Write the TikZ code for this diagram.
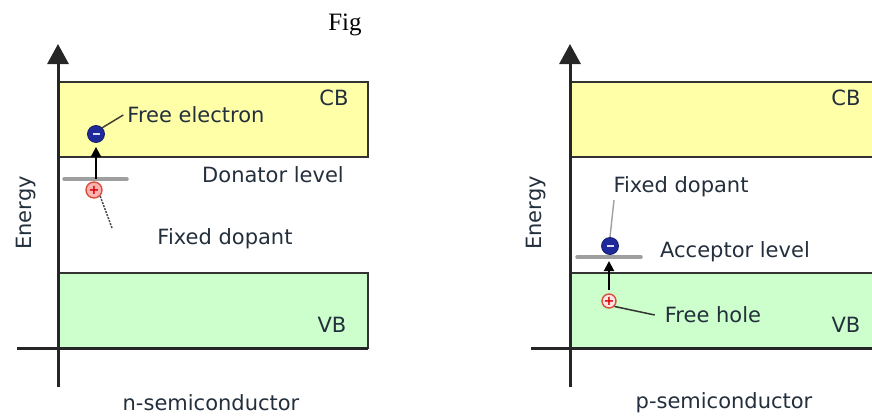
\documentclass[tikz,border=0pt]{standalone}
\usepackage{fontspec}
\setmainfont{DejaVu Sans}
\newfontfamily\figfont{Liberation Serif}
\usetikzlibrary{arrows.meta}
\definecolor{cbfill}{HTML}{FFFFA8}
\definecolor{vbfill}{HTML}{CCFFCC}
\definecolor{bordo}{HTML}{333333}
\definecolor{testo}{HTML}{232F3C}
\definecolor{elett}{HTML}{1E2A9A}
\definecolor{lacuna}{HTML}{D9503A}
\begin{document}
\begin{tikzpicture}[x=1pt,y=-1pt,
			banda/.style={draw=bordo, line width=2pt},
			asse/.style={line width=3pt, black!85},
			livello/.style={line width=3.5pt, gray!75, line cap=round},
			freccia/.style={line width=2pt, black, -{Triangle[length=10pt,width=10pt]}},
			elettrone/.style={circle, fill=elett, draw=elett!70!black, line width=0.8pt, inner sep=0pt, minimum size=17pt, text=white!85!elett},
			lacunanodo/.style={circle, draw=lacuna, line width=1.4pt, inner sep=0pt, minimum size=16pt, text=red!85!black, font=\fontsize{13}{13}\selectfont\bfseries},
			guida/.style={line width=1.5pt, black!70!olive},
			etich/.style={font=\fontsize{21}{25}\selectfont, text=testo, inner sep=0pt},
			]
			
			\clip (0,0) rectangle (872,415);
			
			\def\ax{58}
			\def\bx{368}
			\def\cbt{82}
			\def\cbb{157}
			\def\vbt{273}
			\def\vbb{348}
			
			\node[font=\figfont\fontsize{25}{28}\selectfont, inner sep=0pt] (fig) at (345,25) {Fig};
			
			%% -- n-semiconductor ------------------------------------
			\begin{scope}[xshift=0pt]
				\draw[banda, fill=cbfill](\ax,\cbt) rectangle (\bx,\cbb);
				\draw[banda, fill=vbfill](\ax,\vbt) rectangle (\bx,\vbb);
				\draw[asse](17,\vbb)--(\bx,\vbb);
				\draw[asse, -{Triangle[length=20pt,width=21pt]}](\ax,387)--(\ax,44);
				\node[etich](cbn) at (334,98){CB};
				\node[etich](vbn) at (332,325){VB};
				\node[etich, rotate=90](enn) at (26,213){Energy};
				\node[etich](fen) at (196,115){Free electron};
				\node[etich](dln) at (273,175){Donator level};
				\node[etich](fdn) at (225,239){Fixed dopant};
				\node[etich](scn) at (211,403){n-semiconductor};
				\coordinate (dl1) at (64,179);
				\coordinate (dl2) at (127,179);
				\coordinate (dlx) at (96,179);
				\coordinate (fdp) at (112,228);
				\draw[livello](dl1)--(dl2);
				\node[elettrone](eln) at (96,134){\rule{7pt}{2.2pt}};
				\node[lacunanodo, fill=red!30](don) at (94,190){+};
				\draw[freccia, shorten >=4pt](dlx)--(eln.south);
				\draw[guida](eln.north east)--([xshift=-4pt]fen.west);
				\draw[line width=1.5pt, gray!60!black, dash pattern=on 2pt off 1.2pt](don.south east)--(fdp);
			\end{scope}
			
			%% -- p-semiconductor ------------------------------------
			\begin{scope}[xshift=512pt]
				\draw[banda, fill=cbfill](\ax,\cbt) rectangle (\bx,\cbb);
				\draw[banda, fill=vbfill](\ax,\vbt) rectangle (\bx,\vbb);
				\draw[asse](19,\vbb)--(\bx,\vbb);
				\draw[asse, -{Triangle[length=20pt,width=21pt]}](\ax,387)--(\ax,44);
				\node[etich](cbp) at (334,98){CB};
				\node[etich](vbp) at (334,325){VB};
				\node[etich, rotate=90](enp) at (24,213){Energy};
				\node[etich](fdq) at (169,187){Fixed dopant};
				\node[etich](alp) at (223,252){Acceptor level};
				\node[etich](fhp) at (201,315){Free hole};
				\node[etich](scp) at (212,403){p-semiconductor};
				\coordinate (al1) at (65,257);
				\coordinate (al2) at (129,257);
				\coordinate (alx) at (97,257);
				\coordinate (fdc) at (102,200);
				\draw[livello](al1)--(al2);
				\node[elettrone](acc) at (98,246){\rule{7pt}{2.2pt}};
				\node[lacunanodo, fill=red!10, minimum size=14pt](hol) at (97,301){+};
				\draw[freccia, shorten >=4pt, shorten <=3pt](hol.north)--(alx);
				\draw[line width=1.4pt, gray!75](acc.north)--(fdc);
				\draw[guida, black!80](hol.south east)--([xshift=-10pt]fhp.west);
			\end{scope}
			
\end{tikzpicture}
\end{document}
